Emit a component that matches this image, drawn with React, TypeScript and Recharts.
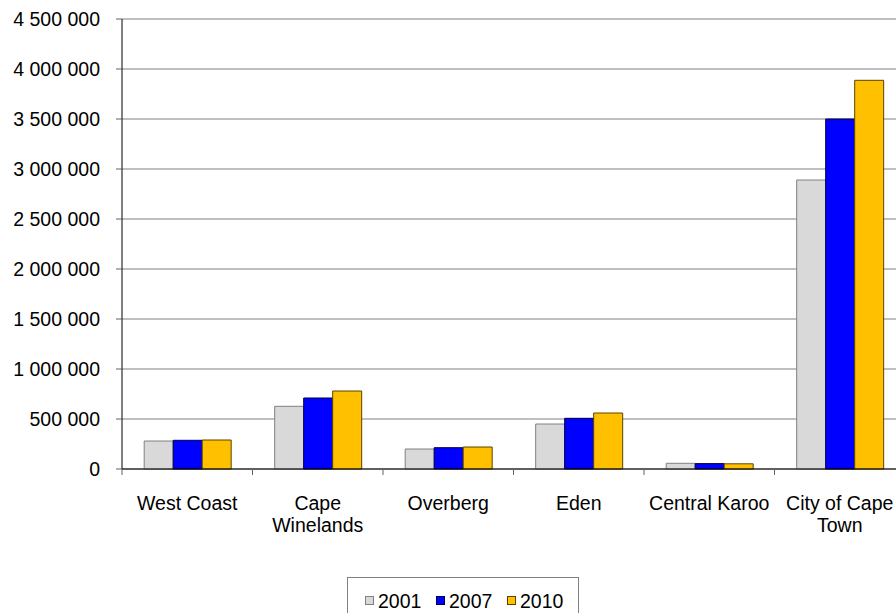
import React from 'react';
import { BarChart, Bar, XAxis, YAxis, CartesianGrid, Legend } from 'recharts';

const districts = ['West Coast', 'Cape Winelands', 'Overberg', 'Eden', 'Central Karoo', 'City of Cape Town'];
const districtLabelLines = [
  ['West Coast'],
  ['Cape', 'Winelands'],
  ['Overberg'],
  ['Eden'],
  ['Central Karoo'],
  ['City of Cape', 'Town'],
];
const pop2001 = [280000, 627000, 200000, 450000, 57000, 2890000];
const pop2007 = [287000, 710000, 213000, 507000, 54000, 3500000];
const pop2010 = [290000, 780000, 220000, 560000, 52000, 3887000];
const yTicks = [0, 500000, 1000000, 1500000, 2000000, 2500000, 3000000, 3500000, 4000000, 4500000];

const series = [
  { key: 'y2001', name: '2001', fill: '#D9D9D9', stroke: '#808080' },
  { key: 'y2007', name: '2007', fill: '#0000FF', stroke: '#000040' },
  { key: 'y2010', name: '2010', fill: '#FFC000', stroke: '#5a4300' },
];

const data = districts.map((name, i) => ({
  name,
  y2001: pop2001[i],
  y2007: pop2007[i],
  y2010: pop2010[i],
}));

const WIDTH = 910;
const HEIGHT = 613;
// legend box (40px) is added to the bottom offset by recharts
const MARGIN = { top: 19, right: 5, bottom: 44, left: 0 };
const Y_AXIS_W = 122;
const BAND = (WIDTH - MARGIN.left - MARGIN.right - Y_AXIS_W) / districts.length;
const FONT = 'Arial, "Liberation Sans", sans-serif';

const fmt = (v: number) => String(v).replace(/\B(?=(\d{3})+(?!\d))/g, ' ');

function DistrictTick(props: any) {
  const { x, y, index } = props;
  const lines: string[] = districtLabelLines[index] || [];
  const left = x - BAND / 2;
  return (
    <g>
      <line x1={left} y1={y - 8} x2={left} y2={y - 2} stroke="#606060" />
      <text x={x} y={y + 33} textAnchor="middle" fill="#000" fontSize={19.5} fontFamily={FONT}>
        {lines.map((ln, i) => (
          <tspan key={i} x={x} dy={i === 0 ? 0 : 22}>
            {ln}
          </tspan>
        ))}
      </text>
    </g>
  );
}

function BoxLegend(props: any) {
  const { payload } = props;
  return (
    <div
      style={{
        border: '1px solid #808080',
        width: 232,
        height: 40,
        boxSizing: 'border-box',
        display: 'flex',
        paddingLeft: 17,
        paddingTop: 7,
        fontFamily: FONT,
        fontSize: 19.5,
        lineHeight: '22px',
        color: '#000',
      }}
    >
      {(payload || []).map((p: any) => {
        const s = series.find((d) => d.name === p.value);
        return (
          <div key={p.value} style={{ display: 'flex', alignItems: 'center', width: 74 }}>
            <span
              style={{
                display: 'inline-block',
                width: 7,
                height: 7,
                background: s?.fill,
                border: `1px solid ${s?.stroke}`,
                marginRight: 4,
              }}
            />
            <span>{p.value}</span>
          </div>
        );
      })}
    </div>
  );
}

export default function App() {
  return (
    <div style={{ position: 'absolute', left: 0, top: 0, width: 896, height: 613, overflow: 'hidden', background: '#fff' }}>
      <BarChart width={WIDTH} height={HEIGHT} data={data} margin={MARGIN} barGap={0} barCategoryGap="17%">
        <CartesianGrid vertical={false} stroke="#808080" />
        <XAxis
          dataKey="name"
          height={60}
          axisLine={{ stroke: '#000' }}
          tickLine={false}
          tick={<DistrictTick />}
          interval={0}
        />
        <YAxis
          width={Y_AXIS_W}
          domain={[0, 4500000]}
          ticks={yTicks}
          tickFormatter={fmt}
          tickSize={6}
          tickMargin={16}
          axisLine={{ stroke: '#000' }}
          tickLine={{ stroke: '#606060' }}
          tick={{ fill: '#000', fontSize: 19.5, fontFamily: FONT }}
        />
        <Legend
          content={<BoxLegend />}
          wrapperStyle={{ position: 'absolute', left: 347, top: 577, width: 232 }}
        />
        {series.map((s) => (
          <Bar
            key={s.key}
            dataKey={s.key}
            name={s.name}
            fill={s.fill}
            stroke={s.stroke}
            strokeWidth={1}
            isAnimationActive={false}
          />
        ))}
      </BarChart>
    </div>
  );
}
